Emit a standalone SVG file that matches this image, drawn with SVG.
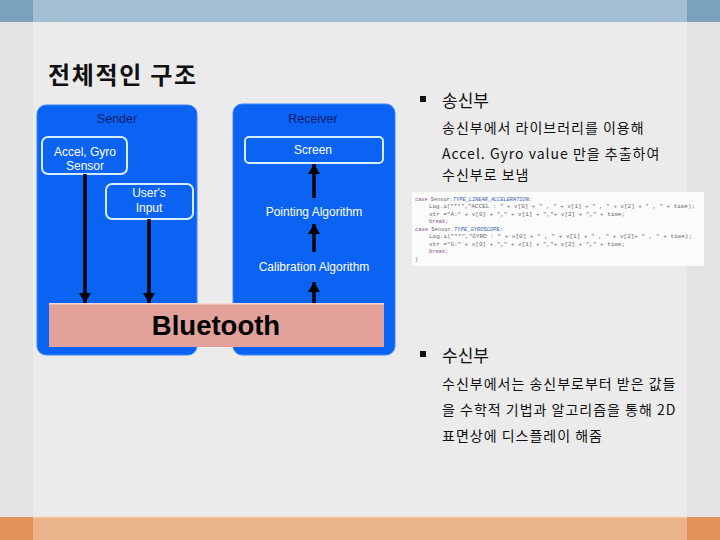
<svg xmlns="http://www.w3.org/2000/svg" width="720" height="540" viewBox="0 0 720 540">
<style>
.lbl{font-family:"Liberation Sans",Arial,sans-serif;font-size:12px;text-anchor:middle}
.w{fill:#ffffff}
.nav{fill:#0b1b6e;font-size:12.5px}
.panel{fill:#0b63f3;stroke:#3a86ff;stroke-width:1}
.inner{fill:#0b63f3;stroke:#d6ecff;stroke-width:2}
.ko{font-family:"Noto Sans CJK KR","Noto Sans",sans-serif;fill:#111}
.body{font-size:14px;letter-spacing:1px}
.code{font-family:"Liberation Mono","DejaVu Sans Mono",monospace;font-size:5.4px;fill:#6a6a6a}
.kw{fill:#8a4f8a}
.cst{fill:#3a5db0;font-style:italic}
.arr{stroke:#000;stroke-width:3.5;fill:none}
</style>
<defs>
<marker id="ah" markerUnits="userSpaceOnUse" markerWidth="12" markerHeight="12" refX="10" refY="6" orient="auto">
<path d="M0,0 L10,6 L0,12 z" fill="#000"/>
</marker>
</defs>
<!-- background -->
<rect x="0" y="0" width="720" height="540" fill="#e3e3e3"/>
<rect x="33" y="0" width="654" height="540" fill="#ebebeb"/>
<rect x="0" y="0" width="720" height="22" fill="#7aa1be"/>
<rect x="33" y="0" width="654" height="22" fill="#a4bfd3"/>
<rect x="0" y="517" width="720" height="23" fill="#e3935a"/>
<rect x="33" y="517" width="654" height="23" fill="#ebb38c"/>
<rect x="33" y="516" width="654" height="1.5" fill="#f6dfc8"/>

<text class="ko" x="48" y="84" font-size="24" font-weight="bold" textLength="148" lengthAdjust="spacing">전체적인 구조</text>

<g id="sender">
<rect class="panel" x="37" y="105" width="160" height="250" rx="9"/>
<text class="lbl nav" x="117" y="123">Sender</text>
</g>
<g id="receiver">
<rect class="panel" x="233" y="104" width="162" height="251" rx="9"/>
<text class="lbl nav" x="313" y="123">Receiver</text>
</g>
<g id="accel">
<rect class="inner" x="42" y="137" width="85" height="37" rx="6"/>
<text class="lbl w" x="85" y="156">Accel, Gyro</text>
<text class="lbl w" x="85" y="170">Sensor</text>
</g>
<g id="userinput">
<rect class="inner" x="106" y="184" width="87" height="35" rx="6"/>
<text class="lbl w" x="149" y="197">User's</text>
<text class="lbl w" x="149" y="212">Input</text>
</g>
<g id="screen">
<rect class="inner" x="245" y="137" width="138" height="26" rx="4"/>
<text class="lbl w" x="313" y="154">Screen</text>
</g>
<g id="pointing">
<text class="lbl w" x="314" y="216">Pointing Algorithm</text>
</g>
<g id="calibration">
<text class="lbl w" x="314" y="271">Calibration Algorithm</text>
</g>
<g id="connectors">
<line class="arr" x1="85" y1="174" x2="85" y2="303" marker-end="url(#ah)"/>
<line class="arr" x1="149" y1="219" x2="149" y2="303" marker-end="url(#ah)"/>
<line class="arr" x1="314" y1="198" x2="314" y2="164" marker-end="url(#ah)"/>
<line class="arr" x1="314" y1="252" x2="314" y2="224" marker-end="url(#ah)"/>
<line class="arr" x1="314" y1="303" x2="314" y2="282" marker-end="url(#ah)"/>
</g>
<g id="bluetooth">
<rect x="49" y="303" width="335" height="44" fill="#e3a19b"/>
<rect x="49" y="303" width="335" height="1.5" fill="#f6d6d2"/>
<text x="216" y="335" font-family="Liberation Sans,Arial,sans-serif" font-weight="bold" font-size="27.5" text-anchor="middle" fill="#000">Bluetooth</text>
</g>

<!-- right text -->
<rect x="420" y="96" width="6" height="6" fill="#111"/>
<text class="ko" x="442" y="107" font-size="17">송신부</text>
<text class="ko body" x="442" y="133">송신부에서 라이브러리를 이용해</text>
<text class="ko body" x="442" y="159">Accel. Gyro value 만을 추출하여</text>
<text class="ko body" x="442" y="180">수신부로 보냄</text>

<g id="code">
<rect x="412" y="192" width="292" height="74" fill="#fbfbfb"/>
<text class="code" x="415" y="200.5" textLength="117" lengthAdjust="spacingAndGlyphs"><tspan class="kw">case</tspan> Sensor.<tspan class="cst">TYPE_LINEAR_ACCELERATION:</tspan></text>
<text class="code" x="429" y="208" textLength="266" lengthAdjust="spacingAndGlyphs">Log.i("**","ACCEL : " + v[0] + " , " + v[1] + " , " + v[2] + " , " + time);</text>
<text class="code" x="429" y="215.5" textLength="196" lengthAdjust="spacingAndGlyphs">str ="A:" + v[0] + "," + v[1] + ","+ v[2] + "," + time;</text>
<text class="code kw" x="429" y="223">break;</text>
<text class="code" x="415" y="230.5" textLength="88" lengthAdjust="spacingAndGlyphs"><tspan class="kw">case</tspan> Sensor.<tspan class="cst">TYPE_GYROSCOPE:</tspan></text>
<text class="code" x="429" y="238" textLength="263" lengthAdjust="spacingAndGlyphs">Log.i("**","GYRO : " + v[0] + " , " + v[1] + " , " + v[2]+ " , " + time);</text>
<text class="code" x="429" y="245.5" textLength="196" lengthAdjust="spacingAndGlyphs">str ="G:" + v[0] + "," + v[1] + ","+ v[2] + "," + time;</text>
<text class="code kw" x="429" y="253">break;</text>
<text class="code" x="415" y="260.5">}</text>
</g>

<rect x="420" y="351" width="6" height="6" fill="#111"/>
<text class="ko" x="442" y="362" font-size="17">수신부</text>
<text class="ko body" x="442" y="389">수신부에서는 송신부로부터 받은 값들</text>
<text class="ko body" x="442" y="415">을 수학적 기법과 알고리즘을 통해 2D</text>
<text class="ko body" x="442" y="441">표면상에 디스플레이 해줌</text>
</svg>
